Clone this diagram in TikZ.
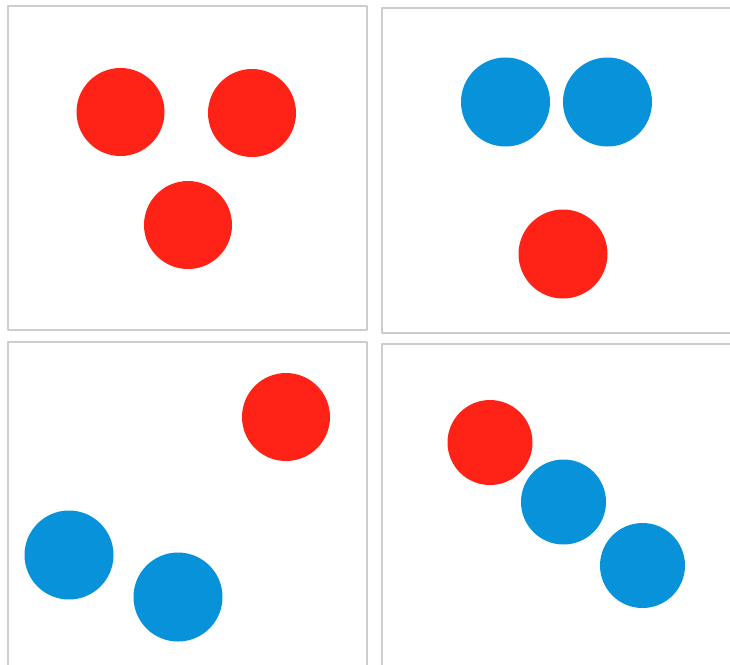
\documentclass[tikz,border=0pt]{standalone}
\usepackage{tikz}
\definecolor{dotred}{RGB}{255,34,22}
\definecolor{dotblue}{RGB}{8,146,218}
\definecolor{framegray}{RGB}{205,205,205}
\begin{document}
\begin{tikzpicture}[line cap=round,line join=round,x=0.03cm,y=-0.03cm,
  panel/.style={draw=framegray,line width=1.6pt},
  reddot/.style={fill=dotred,draw=none},
  bluedot/.style={fill=dotblue,draw=none}]
\useasboundingbox (0,0) rectangle (730,664);
\clip (0,0) rectangle (730,664);
\draw [panel] (8,6) rectangle (367,330);
\draw [panel] (382,8) rectangle (745,333);
\draw [panel] (8,342) rectangle (367,675);
\draw [panel] (382,344) rectangle (745,675);
% top left
\draw [reddot] (120.5,112) circle (44);
\draw [reddot] (252,113) circle (44);
\draw [reddot] (188,225) circle (44);
% top right
\draw [bluedot] (505.5,102) circle (44.5);
\draw [bluedot] (607.5,102) circle (44.5);
\draw [reddot] (563,254) circle (44.5);
% bottom left
\draw [reddot] (286,417) circle (44);
\draw [bluedot] (69,555) circle (44.5);
\draw [bluedot] (178,597) circle (44.5);
% bottom right
\draw [reddot] (490,442.5) circle (42.5);
\draw [bluedot] (563.5,502) circle (42.5);
\draw [bluedot] (642.5,565.5) circle (42.5);
\end{tikzpicture}
\end{document}
